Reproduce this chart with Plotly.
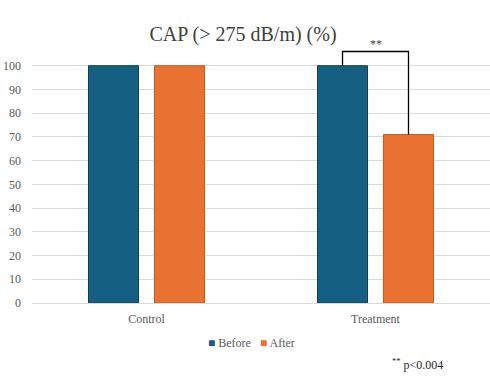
import plotly.graph_objects as go

categories = ["Control", "Treatment"]
before = [100, 100]
after = [100, 71]
series_names = ["Before", "After"]
y_ticks = list(range(0, 101, 10))
sig_label = "**"
p_note = "<sup>**</sup> p&lt;0.004"

FONT = "Liberation Serif, Times New Roman, serif"
C_BEFORE = "#156082"
C_AFTER = "#E97132"
colors = [C_BEFORE, C_AFTER]

L, T, B = 32, 42, 83
PW, PH = 490 - L, 386 - T - B

fig = go.Figure()
fig.add_trace(go.Bar(x=categories, y=before, name=series_names[0], showlegend=False,
                     marker=dict(color=C_BEFORE, line=dict(color="#0e3f57", width=1))))
fig.add_trace(go.Bar(x=categories, y=after, name=series_names[1], showlegend=False,
                     marker=dict(color=C_AFTER, line=dict(color="#c55a1d", width=1))))

bargap = 0.424
bargroupgap = 0.242
# bracket between the two treatment bars
group_w = 1 - bargap
slot = group_w / 2
off = slot / 2
xb = 1 - off
xa = 1 + off
ytop = max(before[1], after[1]) + 6
fig.add_shape(type="path",
              path=f"M {xb} {before[1]} L {xb} {ytop} L {xa} {ytop} L {xa} {after[1]}",
              xref="x", yref="y", line=dict(color="black", width=1.3))
fig.add_annotation(x=1, y=ytop, xref="x", yref="y", text=sig_label, showarrow=False,
                   yanchor="bottom", yshift=-2, font=dict(family=FONT, size=12, color="#404040"))
fig.add_annotation(text=p_note, showarrow=False, xref="paper", yref="paper",
                   x=(417 - L) / PW, y=-(364 - 303) / PH, xanchor="center", yanchor="middle",
                   font=dict(family=FONT, size=12, color="#262626"))

# legend as text with coloured swatches
legend_text = "&nbsp;&nbsp;&nbsp;".join(
    f'<span style="color:{c}">■</span> {n}' for c, n in zip(colors, series_names))
fig.add_annotation(text=legend_text, showarrow=False, xref="paper", yref="paper",
                   x=(251 - L) / PW, y=-(343 - 303) / PH, xanchor="center", yanchor="middle",
                   font=dict(family=FONT, size=12, color="#595959"))

fig.update_layout(
    width=490, height=386,
    margin=dict(l=L, r=0, t=T, b=B, autoexpand=False),
    paper_bgcolor="white", plot_bgcolor="white",
    bargap=bargap, bargroupgap=bargroupgap,
    title=dict(text="CAP (&gt; 275 dB/m) (%)", x=243 / 490, xanchor="center",
               y=1 - 34 / 386, yanchor="middle",
               font=dict(family=FONT, size=20, color="#404040")),
    font=dict(family=FONT, size=12, color="#595959"),
    showlegend=False,
)
fig.update_yaxes(range=[0, 110], tickvals=y_ticks, showgrid=True, gridcolor="#d9d9d9",
                 gridwidth=1, zeroline=False, showline=False, ticks="", automargin=False,
                 ticklabelstandoff=10,
                 tickfont=dict(family=FONT, size=12, color="#595959"))
fig.update_xaxes(showline=True, linecolor="#d9d9d9", linewidth=1, ticks="", automargin=False,
                 ticklabelstandoff=5,
                 tickfont=dict(family=FONT, size=12, color="#595959"))

fig.write_html("out.html", config={"displayModeBar": False},
               post_script="document.body.style.margin='0';document.body.style.overflow='hidden';")
